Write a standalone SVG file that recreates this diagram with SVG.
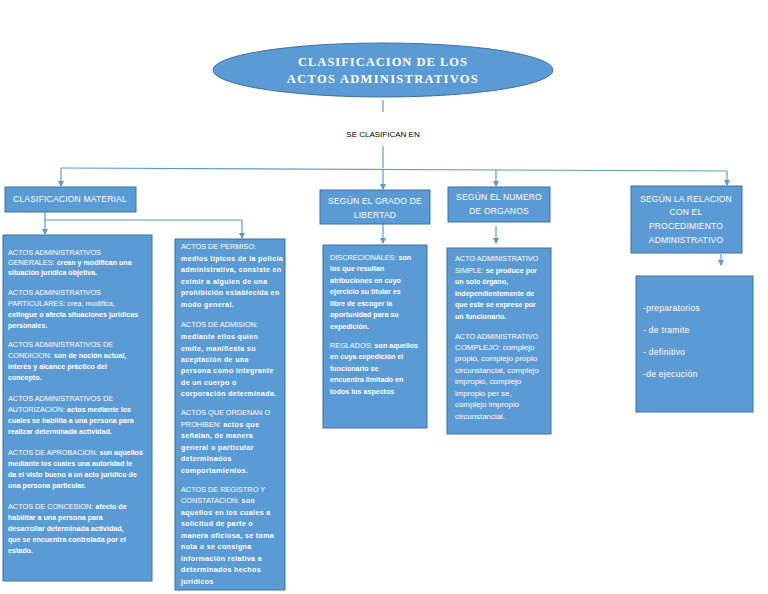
<svg xmlns="http://www.w3.org/2000/svg" width="768" height="594" viewBox="0 0 768 594">
<style>
.box{fill:#5b9bd5;stroke:#41719c;stroke-width:1}
.hd{font-family:"Liberation Sans",Arial,sans-serif;font-size:8.5px;fill:#fff;text-anchor:middle;letter-spacing:0.2px}
.li{font-family:"Liberation Sans",Arial,sans-serif;font-size:8.5px;fill:#fff;letter-spacing:0.3px}
.t{font-family:"Liberation Sans",Arial,sans-serif;font-size:7.3px;fill:#fff}
.b{font-weight:bold;font-size:7.1px}
.w{letter-spacing:0.35px}
.r{font-size:7.9px}
.c{stroke:#5b9bd5;stroke-width:1.2;fill:none}
.ar{stroke:#5b9bd5;stroke-width:1.2;fill:none;marker-end:url(#ah)}
</style>
<defs>
<marker id="ah" markerWidth="6" markerHeight="6" refX="5" refY="3" orient="auto" markerUnits="userSpaceOnUse">
<path d="M0,0 L6,3 L0,6 z" fill="#5b9bd5"/>
</marker>
</defs>
<rect width="768" height="594" fill="#fff"/>
<g id="title">
<ellipse cx="383" cy="70" rx="170" ry="27" class="box"/>
<text x="383" y="66" font-family="Liberation Serif,serif" font-weight="bold" font-size="12.5" fill="#fff" text-anchor="middle" letter-spacing="1">CLASIFICACION DE LOS</text>
<text x="383" y="83" font-family="Liberation Serif,serif" font-weight="bold" font-size="12.5" fill="#fff" text-anchor="middle" letter-spacing="1.3">ACTOS ADMINISTRATIVOS</text>
</g>
<g id="label-se-clasifican">
<text x="383" y="137" font-family="Liberation Sans,Arial,sans-serif" font-size="8" fill="#000" text-anchor="middle">SE CLASIFICAN EN</text>
</g>
<g id="connectors">
<path class="c" d="M383,100 V112"/>
<path class="c" d="M383,146 V168"/>
<path class="c" d="M61,168 L727,171"/>
<path class="ar" d="M61,168 V186"/>
<path class="ar" d="M383,170 V189"/>
<path class="ar" d="M496,170 V186"/>
<path class="ar" d="M727,171 V185"/>
<path class="c" d="M45,212 V220 H242"/>
<path class="ar" d="M45,220 V234"/>
<path class="ar" d="M242,220 V238"/>
<path class="ar" d="M383,224 V243"/>
<path class="ar" d="M496,226 V243"/>
<path class="ar" d="M721,254 V265"/>
</g>
<g id="n-material">
<rect x="5" y="187" width="131" height="25" class="box"/>
<text class="hd" x="70" y="202">CLASIFICACION MATERIAL</text>
</g>
<g id="n-libertad">
<rect x="320" y="190" width="110" height="34" class="box"/>
<text class="hd" x="375" y="204">SEGÚN EL GRADO DE</text>
<text class="hd" x="375" y="218">LIBERTAD</text>
</g>
<g id="n-organos">
<rect x="448" y="187" width="102" height="35" class="box"/>
<text class="hd" x="499" y="200">SEGÚN EL NUMERO</text>
<text class="hd" x="499" y="214">DE ORGANOS</text>
</g>
<g id="n-relacion">
<rect x="631" y="186" width="111" height="67" class="box"/>
<text class="hd" x="686" y="202">SEGÚN LA RELACION</text>
<text class="hd" x="686" y="215">CON EL</text>
<text class="hd" x="686" y="229">PROCEDIMIENTO</text>
<text class="hd" x="686" y="243">ADMINISTRATIVO</text>
</g>
<g id="d-material">
<rect x="3" y="235" width="149" height="346" class="box"/>
<text class="t" x="8" y="255">ACTOS ADMINISTRATIVOS</text>
<text class="t" x="8" y="265">GENERALES: <tspan class="b">crean y modifican una</tspan></text>
<text class="t b" x="8" y="275">situación jurídica objetiva.</text>
<text class="t" x="8" y="295">ACTOS ADMINISTRATIVOS</text>
<text class="t" x="8" y="306">PARTICULARES: crea, modifica,</text>
<text class="t b" x="8" y="317">extingue o afecta situaciones jurídicas</text>
<text class="t b" x="8" y="328">personales.</text>
<text class="t" x="8" y="347">ACTOS ADMINISTRATIVOS DE</text>
<text class="t" x="8" y="358">CONDICION: <tspan class="b">son de noción actual,</tspan></text>
<text class="t b" x="8" y="369">interés y alcance práctico del</text>
<text class="t b" x="8" y="380">concepto.</text>
<text class="t" x="8" y="401">ACTOS ADMINISTRATIVOS DE</text>
<text class="t" x="8" y="412">AUTORIZACION: <tspan class="b">actos mediante los</tspan></text>
<text class="t b" x="8" y="423">cuales se habilita a una persona para</text>
<text class="t b" x="8" y="434">realizar determinada actividad.</text>
<text class="t" x="8" y="455">ACTOS DE APROBACION: <tspan class="b">son aquellos</tspan></text>
<text class="t b" x="8" y="466">mediante los cuales una autoridad le</text>
<text class="t b" x="8" y="477">da el visto bueno a un acto jurídico de</text>
<text class="t b" x="8" y="488">una persona particular.</text>
<text class="t" x="8" y="509">ACTOS DE CONCESION: <tspan class="b">afecto de</tspan></text>
<text class="t b" x="8" y="520">habilitar a una persona para</text>
<text class="t b" x="8" y="531">desarrollar determinada actividad,</text>
<text class="t b" x="8" y="542">que se encuentra controlada por el</text>
<text class="t b" x="8" y="553">estado.</text>
</g>
<g id="d-material2">
<rect x="175" y="239" width="110" height="351" class="box"/>
<text class="t" x="181" y="249">ACTOS DE PERMISO:</text>
<text class="t b w" x="181" y="261">medios típicos de la policía</text>
<text class="t b w" x="181" y="272">administrativa, consiste en</text>
<text class="t b w" x="181" y="284">eximir a alguien de una</text>
<text class="t b w" x="181" y="295">prohibición establecida en</text>
<text class="t b w" x="181" y="307">modo general.</text>
<text class="t" x="181" y="327">ACTOS DE ADMISION:</text>
<text class="t b w" x="181" y="339">mediante ellos quien</text>
<text class="t b w" x="181" y="351">emite, manifiesta su</text>
<text class="t b w" x="181" y="362">aceptación de una</text>
<text class="t b w" x="181" y="373">persona como integrante</text>
<text class="t b w" x="181" y="385">de un cuerpo o</text>
<text class="t b w" x="181" y="396">corporación determinada.</text>
<text class="t" x="181" y="415">ACTOS QUE ORDENAN O</text>
<text class="t" x="181" y="427">PROHIBEN: <tspan class="b w">actos que</tspan></text>
<text class="t b w" x="181" y="438">señalan, de manera</text>
<text class="t b w" x="181" y="450">general o particular</text>
<text class="t b w" x="181" y="461">determinados</text>
<text class="t b w" x="181" y="473">comportamientos.</text>
<text class="t" x="181" y="492">ACTOS DE REGISTRO Y</text>
<text class="t" x="181" y="503">CONSTATACION: <tspan class="b w">son</tspan></text>
<text class="t b w" x="181" y="515">aquellos en los cuales a</text>
<text class="t b w" x="181" y="526">solicitud de parte o</text>
<text class="t b w" x="181" y="538">manera oficiosa, se toma</text>
<text class="t b w" x="181" y="549">nota o se consigna</text>
<text class="t b w" x="181" y="561">información relativa a</text>
<text class="t b w" x="181" y="572">determinados hechos</text>
<text class="t b w" x="181" y="584">jurídicos</text>
</g>
<g id="d-libertad">
<rect x="323" y="245" width="104" height="183" class="box"/>
<text class="t" x="330" y="260">DISCRECIONALES: <tspan class="b">son</tspan></text>
<text class="t b" x="330" y="271">los que resultan</text>
<text class="t b" x="330" y="283">atribuciones en cuyo</text>
<text class="t b" x="330" y="294">ejercicio su titular es</text>
<text class="t b" x="330" y="306">libre de escoger la</text>
<text class="t b" x="330" y="317">oportunidad para su</text>
<text class="t b" x="330" y="329">expedición.</text>
<text class="t" x="330" y="348">REGLADOS: <tspan class="b">son aquellos</tspan></text>
<text class="t b" x="330" y="359">en cuya expedición el</text>
<text class="t b" x="330" y="371">funcionario se</text>
<text class="t b" x="330" y="382">encuentra limitado en</text>
<text class="t b" x="330" y="394">todos los aspectos</text>
</g>
<g id="d-organos">
<rect x="447" y="248" width="104" height="186" class="box"/>
<text class="t" x="455" y="261">ACTO ADMINISTRATIVO</text>
<text class="t" x="455" y="273">SIMPLE: <tspan class="b">se produce por</tspan></text>
<text class="t b" x="455" y="284">un solo órgano,</text>
<text class="t b" x="455" y="296">independientemente de</text>
<text class="t b" x="455" y="307">que este se exprese por</text>
<text class="t b" x="455" y="319">un funcionario.</text>
<text class="t" x="455" y="339">ACTO ADMINISTRATIVO</text>
<text class="t r" x="455" y="350">COMPLEJO: complejo</text>
<text class="t r" x="455" y="361">propio, complejo propio</text>
<text class="t r" x="455" y="373">circunstancial, complejo</text>
<text class="t r" x="455" y="384">impropio, complejo</text>
<text class="t r" x="455" y="396">impropio per se,</text>
<text class="t r" x="455" y="407">complejo impropio</text>
<text class="t r" x="455" y="419">circunstancial.</text>
</g>
<g id="d-relacion">
<rect x="636" y="276" width="117" height="136" class="box"/>
<text class="li" x="643" y="311">-preparatorios</text>
<text class="li" x="643" y="333">- de tramite</text>
<text class="li" x="643" y="355">- definitivo</text>
<text class="li" x="643" y="377">-de ejecución</text>
</g>
</svg>
